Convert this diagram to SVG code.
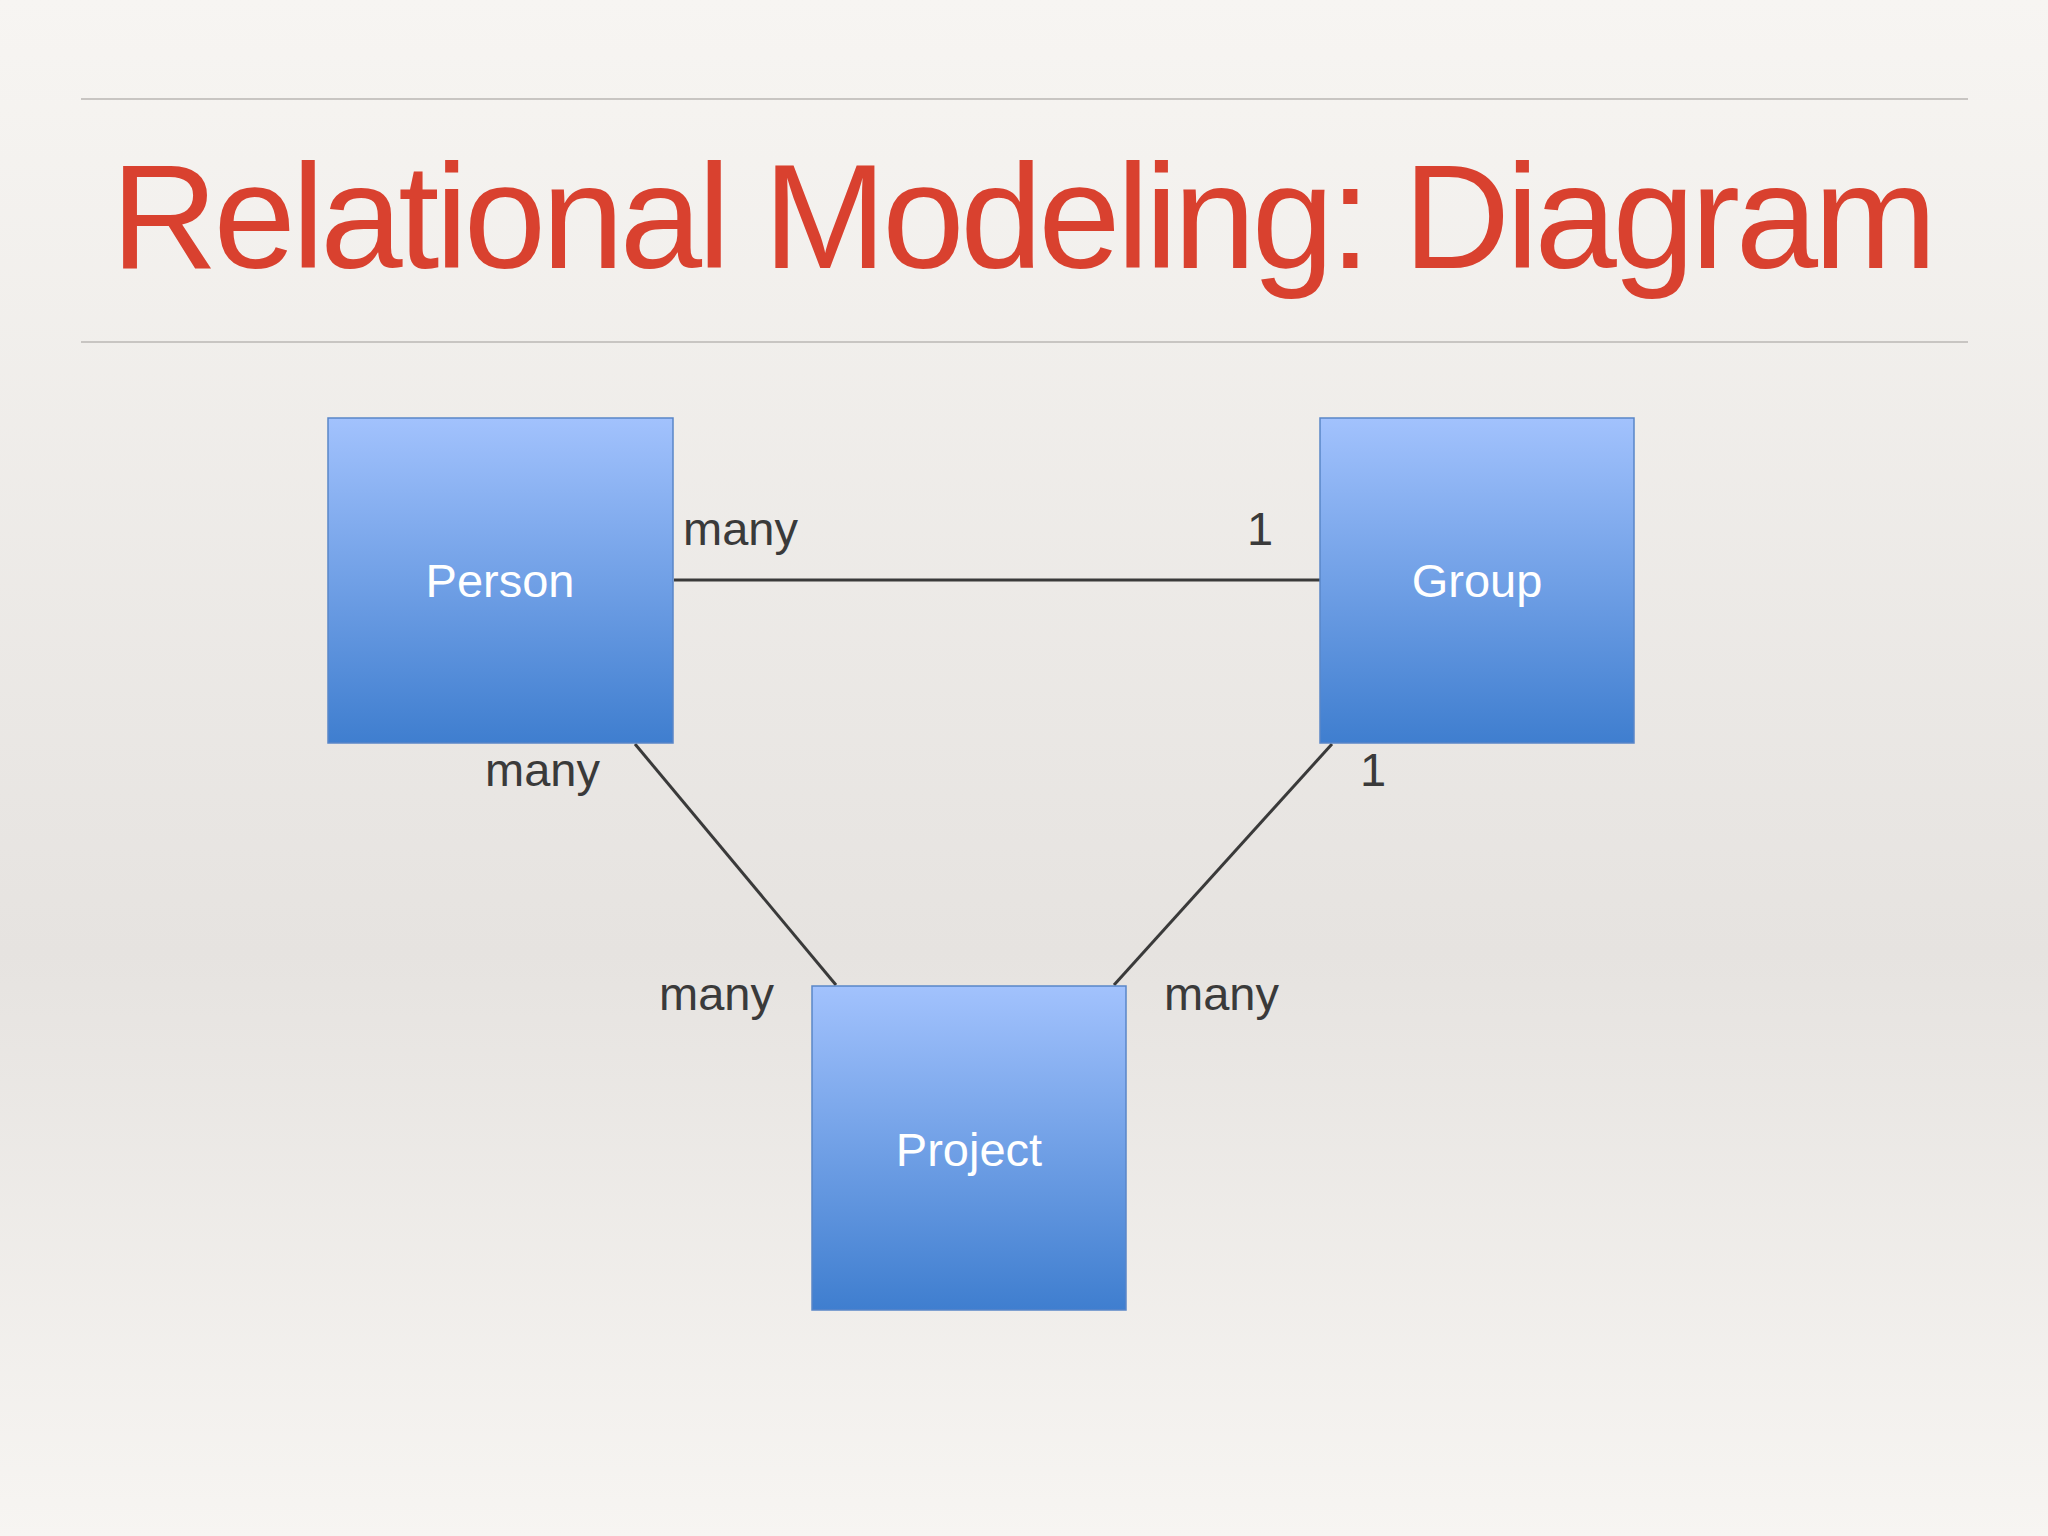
<svg xmlns="http://www.w3.org/2000/svg" width="2048" height="1536" viewBox="0 0 2048 1536">
<defs>
<linearGradient id="bg" x1="0" y1="0" x2="0" y2="1">
<stop offset="0" stop-color="#f7f5f2"/><stop offset="0.62" stop-color="#e6e3e0"/><stop offset="1" stop-color="#f7f5f2"/>
</linearGradient>
<linearGradient id="box" x1="0" y1="0" x2="0" y2="1">
<stop offset="0" stop-color="#a2c2fd"/><stop offset="1" stop-color="#3f7ecf"/>
</linearGradient>
</defs>
<style>
.n{fill:url(#box);stroke:#5a86c8;stroke-width:1.5}
.nt{font-family:"Liberation Sans",Arial,sans-serif;font-size:47px;fill:#fff;text-anchor:middle}
.l{font-family:"Liberation Sans",Arial,sans-serif;font-size:47px;fill:#3a3a3a}
.c{stroke:#3a3a3a;stroke-width:3;fill:none}
</style>
<rect width="2048" height="1536" fill="url(#bg)"/>
<line x1="81" y1="99" x2="1968" y2="99" stroke="#c8c5c2" stroke-width="2"/>
<line x1="81" y1="342" x2="1968" y2="342" stroke="#c8c5c2" stroke-width="2"/>
<text x="1024" y="268" text-anchor="middle" font-family="'Liberation Sans',Arial,sans-serif" font-size="148" fill="#d9412f" textLength="1826">Relational Modeling: Diagram</text>
<g id="connectors">
<line class="c" x1="674" y1="580" x2="1320" y2="580"/>
<line class="c" x1="635" y1="744" x2="836" y2="985"/>
<line class="c" x1="1332" y1="744" x2="1114" y2="985"/>
</g>
<g id="person"><rect class="n" x="328" y="418" width="345" height="325"/><text class="nt" x="500" y="597">Person</text></g>
<g id="group"><rect class="n" x="1320" y="418" width="314" height="325"/><text class="nt" x="1477" y="597">Group</text></g>
<g id="project"><rect class="n" x="812" y="986" width="314" height="324"/><text class="nt" x="969" y="1166">Project</text></g>
<g id="labels">
<text class="l" x="683" y="545">many</text>
<text class="l" x="1247" y="545">1</text>
<text class="l" x="485" y="786">many</text>
<text class="l" x="1360" y="786">1</text>
<text class="l" x="659" y="1010">many</text>
<text class="l" x="1164" y="1010">many</text>
</g>
</svg>
